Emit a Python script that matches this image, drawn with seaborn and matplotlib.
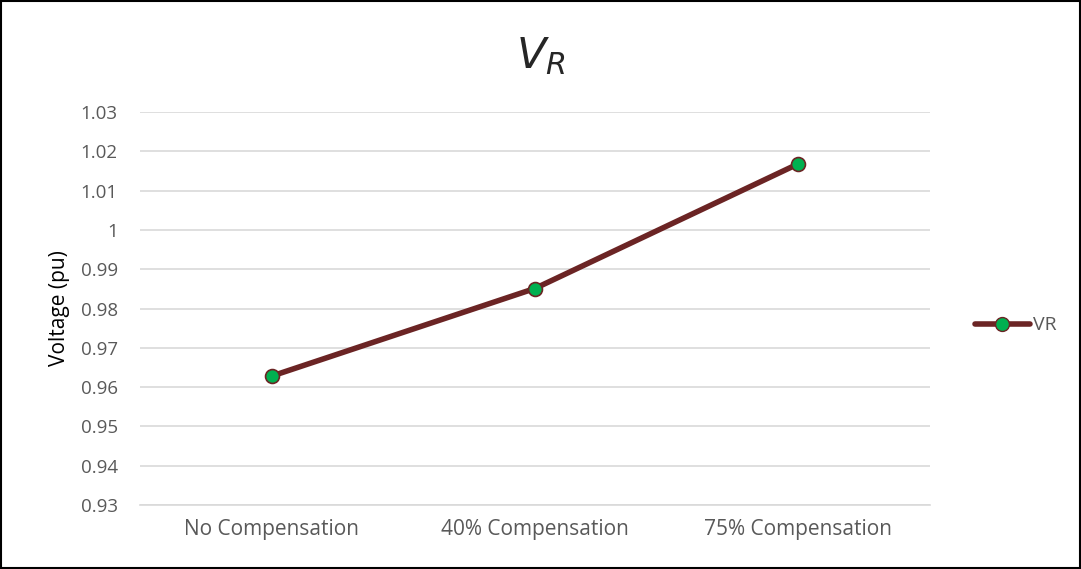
import matplotlib
matplotlib.use("Agg")
import matplotlib.pyplot as plt
import seaborn as sns
import pandas as pd
from matplotlib.lines import Line2D

categories = ["No Compensation", "40% Compensation", "75% Compensation"]
vr_values = [0.9628, 0.9851, 1.0168]
yticks = [0.93, 0.94, 0.95, 0.96, 0.97, 0.98, 0.99, 1.00, 1.01, 1.02, 1.03]
ytick_labels = ["0.93", "0.94", "0.95", "0.96", "0.97", "0.98", "0.99", "1", "1.01", "1.02", "1.03"]

sns.set_theme(style="white")
plt.rcParams['font.family'] = ['Open Sans', 'DejaVu Sans']

df = pd.DataFrame({"cat": categories, "VR": vr_values})

fig = plt.figure(figsize=(10.81, 5.69), dpi=100)
ax = fig.add_axes([0.1295, 0.1125, 0.7305, 0.6905])

line_c = "#6B2424"
sns.lineplot(data=df, x="cat", y="VR", ax=ax, color=line_c, linewidth=4,
             marker="o", markersize=10, markerfacecolor="#00B050",
             markeredgecolor=line_c, markeredgewidth=1.2, sort=False)

ax.set_xlim(-0.5, 2.5)
ax.set_ylim(0.93, 1.03)
ax.set_yticks(yticks)
ax.set_yticklabels(ytick_labels)
ax.yaxis.grid(True, color="#D9D9D9", linewidth=1.2)
ax.xaxis.grid(False)
for s in ["top", "right", "left"]:
    ax.spines[s].set_visible(False)
ax.spines["bottom"].set_color("#D9D9D9")
ax.spines["bottom"].set_linewidth(1.2)
ax.tick_params(axis="y", colors="#595959", labelsize=13.5, length=0, pad=16)
ax.tick_params(axis="x", colors="#595959", labelsize=15, length=0, pad=10)
ax.set_xlabel("")
ax.set_ylabel("Voltage (pu)", fontsize=15, color="black", labelpad=8)

fig.text(0.5, 0.9, "$V_R$", fontsize=31, ha="center", va="center")

handle = Line2D([0], [0], color=line_c, linewidth=4, marker="o", markersize=10,
                markerfacecolor="#00B050", markeredgecolor=line_c)
fig.legend([handle], ["VR"], loc="center left", bbox_to_anchor=(0.886, 0.428),
           frameon=False, fontsize=14, labelcolor="#595959", handlelength=2.8,
           handletextpad=0.15)

border = plt.Rectangle((0.001, 0.001), 0.998, 0.997, transform=fig.transFigure,
                       fill=False, edgecolor="black", linewidth=1.5)
fig.patches.append(border)

fig.savefig("out.png", dpi=100)
